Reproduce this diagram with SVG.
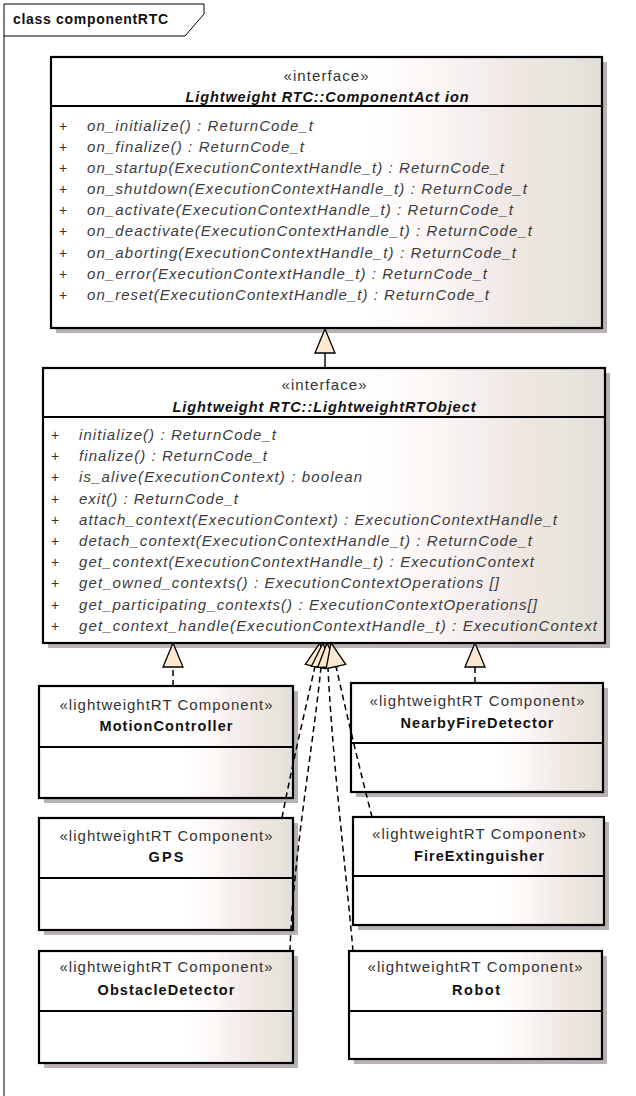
<svg xmlns="http://www.w3.org/2000/svg" width="636" height="1096" viewBox="0 0 636 1096">
  <defs>
    <linearGradient id="boxfill" x1="0" y1="0" x2="1" y2="0">
      <stop offset="0" stop-color="#ffffff"/>
      <stop offset="0.58" stop-color="#ffffff"/>
      <stop offset="0.68" stop-color="#fdf7f6"/>
      <stop offset="0.78" stop-color="#f4eded"/>
      <stop offset="0.86" stop-color="#eee6df"/>
      <stop offset="0.93" stop-color="#e7e6dd"/>
      <stop offset="1" stop-color="#e2ded8"/>
    </linearGradient>
    <marker id="gen" viewBox="0 0 26 22" refX="25" refY="11" markerWidth="26" markerHeight="22" markerUnits="userSpaceOnUse" orient="auto">
      <path d="M1,1 L25,11 L1,21 Z" fill="#fde9cf" stroke="#000" stroke-width="1.3" stroke-dasharray="none" stroke-linejoin="miter"/>
    </marker>
    <style>
      .shadow { fill: #b8b2b4; }
      .box { fill: url(#boxfill); stroke: #000; stroke-width: 2.2; }
      .sep { stroke: #000; stroke-width: 2.2; }
      .vis { font-family: "Liberation Sans", Arial, sans-serif; font-size: 14px; fill: #333; }
      .op { font-family: "Liberation Sans", Arial, sans-serif; font-size: 15px; font-style: italic; fill: #3b3b40; }
      .st { font-family: "Liberation Sans", Arial, sans-serif; font-size: 15px; fill: #333; text-anchor: middle; }
      .iname { font-family: "Liberation Sans", Arial, sans-serif; font-size: 14.5px; font-weight: bold; font-style: italic; fill: #111; text-anchor: middle; }
      .cname { font-family: "Liberation Sans", Arial, sans-serif; font-size: 14.5px; font-weight: bold; fill: #111; text-anchor: middle; }
      .title { font-family: "Liberation Sans", Arial, sans-serif; font-size: 14px; font-weight: bold; fill: #111; }
      .solid { fill: none; stroke: #000; stroke-width: 1.4; marker-end: url(#gen); }
      .dash { fill: none; stroke: #000; stroke-width: 1.5; stroke-dasharray: 6 4; marker-end: url(#gen); }
    </style>
  </defs>

  <rect width="636" height="1096" fill="#ffffff"/>

  <!-- package frame with name tab -->
  <g id="frame">
    <path d="M4,1096 V4 H204 V14 L185,36 H4" fill="none" stroke="#000" stroke-width="1"/>
    <text class="title" x="13" y="24" textLength="155">class componentRTC</text>
  </g>

  <!-- interface ComponentAction -->
  <g id="ComponentAction">
    <rect class="shadow" x="56" y="62" width="551" height="271"/>
    <rect class="box" x="51" y="57" width="551" height="271"/>
    <line class="sep" x1="51" y1="106" x2="602" y2="106"/>
    <text class="st" x="326" y="81" textLength="85">«interface»</text>
    <text class="iname" x="327" y="102" textLength="283">Lightweight RTC::ComponentAct ion</text>
    <g class="vis">
      <text x="59" y="131">+</text>
      <text x="59" y="152">+</text>
      <text x="59" y="173">+</text>
      <text x="59" y="194">+</text>
      <text x="59" y="215">+</text>
      <text x="59" y="236">+</text>
      <text x="59" y="258">+</text>
      <text x="59" y="279">+</text>
      <text x="59" y="300">+</text>
    </g>
    <text class="op" x="87" y="131" textLength="226">on_initialize() : ReturnCode_t</text>
    <text class="op" x="87" y="152" textLength="217">on_finalize() : ReturnCode_t</text>
    <text class="op" x="87" y="173" textLength="417">on_startup(ExecutionContextHandle_t) : ReturnCode_t</text>
    <text class="op" x="87" y="194" textLength="440">on_shutdown(ExecutionContextHandle_t) : ReturnCode_t</text>
    <text class="op" x="87" y="215" textLength="426">on_activate(ExecutionContextHandle_t) : ReturnCode_t</text>
    <text class="op" x="87" y="236" textLength="445">on_deactivate(ExecutionContextHandle_t) : ReturnCode_t</text>
    <text class="op" x="87" y="258" textLength="429">on_aborting(ExecutionContextHandle_t) : ReturnCode_t</text>
    <text class="op" x="87" y="279" textLength="400">on_error(ExecutionContextHandle_t) : ReturnCode_t</text>
    <text class="op" x="87" y="300" textLength="402">on_reset(ExecutionContextHandle_t) : ReturnCode_t</text>
  </g>

  <!-- interface LightweightRTObject -->
  <g id="LightweightRTObject">
    <rect class="shadow" x="48" y="373" width="562" height="275"/>
    <rect class="box" x="43" y="368" width="562" height="275"/>
    <line class="sep" x1="43" y1="417" x2="605" y2="417"/>
    <text class="st" x="324" y="390" textLength="85">«interface»</text>
    <text class="iname" x="324" y="412" textLength="303">Lightweight RTC::LightweightRTObject</text>
    <g class="vis">
      <text x="51" y="440">+</text>
      <text x="51" y="461">+</text>
      <text x="51" y="482">+</text>
      <text x="51" y="504">+</text>
      <text x="51" y="525">+</text>
      <text x="51" y="546">+</text>
      <text x="51" y="567">+</text>
      <text x="51" y="588">+</text>
      <text x="51" y="610">+</text>
      <text x="51" y="631">+</text>
    </g>
    <text class="op" x="79" y="440" textLength="197">initialize() : ReturnCode_t</text>
    <text class="op" x="79" y="461" textLength="188">finalize() : ReturnCode_t</text>
    <text class="op" x="79" y="482" textLength="283">is_alive(ExecutionContext) : boolean</text>
    <text class="op" x="79" y="504" textLength="159">exit() : ReturnCode_t</text>
    <text class="op" x="79" y="525" textLength="478">attach_context(ExecutionContext) : ExecutionContextHandle_t</text>
    <text class="op" x="79" y="546" textLength="453">detach_context(ExecutionContextHandle_t) : ReturnCode_t</text>
    <text class="op" x="79" y="567" textLength="455">get_context(ExecutionContextHandle_t) : ExecutionContext</text>
    <text class="op" x="79" y="588" textLength="420">get_owned_contexts() : ExecutionContextOperations []</text>
    <text class="op" x="79" y="610" textLength="458">get_participating_contexts() : ExecutionContextOperations[]</text>
    <text class="op" x="79" y="631" textLength="518">get_context_handle(ExecutionContextHandle_t) : ExecutionContext</text>
  </g>

  <!-- lightweightRTComponent classes -->
  <g id="MotionController">
    <rect class="shadow" x="44" y="691" width="254" height="112"/>
    <rect class="box" x="39" y="686" width="254" height="112"/>
    <line class="sep" x1="39" y1="747" x2="293" y2="747"/>
    <text class="st" x="166" y="710" textLength="213">«lightweightRT Component»</text>
    <text class="cname" x="166" y="731" textLength="133">MotionController</text>
  </g>

  <g id="NearbyFireDetector">
    <rect class="shadow" x="356" y="688" width="252" height="109"/>
    <rect class="box" x="351" y="683" width="252" height="109"/>
    <line class="sep" x1="351" y1="743" x2="603" y2="743"/>
    <text class="st" x="477" y="706" textLength="215">«lightweightRT Component»</text>
    <text class="cname" x="477" y="728" textLength="153">NearbyFireDetector</text>
  </g>

  <g id="GPS">
    <rect class="shadow" x="44" y="823" width="254" height="112"/>
    <rect class="box" x="39" y="818" width="254" height="112"/>
    <line class="sep" x1="39" y1="878" x2="293" y2="878"/>
    <text class="st" x="166" y="841" textLength="213">«lightweightRT Component»</text>
    <text class="cname" x="166" y="862" textLength="35">GPS</text>
  </g>

  <g id="FireExtinguisher">
    <rect class="shadow" x="358" y="822" width="251" height="108"/>
    <rect class="box" x="353" y="817" width="251" height="108"/>
    <line class="sep" x1="353" y1="876" x2="604" y2="876"/>
    <text class="st" x="479" y="839" textLength="214">«lightweightRT Component»</text>
    <text class="cname" x="479" y="861" textLength="130">FireExtinguisher</text>
  </g>

  <g id="ObstacleDetector">
    <rect class="shadow" x="44" y="956" width="254" height="112"/>
    <rect class="box" x="39" y="951" width="254" height="112"/>
    <line class="sep" x1="39" y1="1011" x2="293" y2="1011"/>
    <text class="st" x="166" y="972" textLength="213">«lightweightRT Component»</text>
    <text class="cname" x="166" y="995" textLength="137">ObstacleDetector</text>
  </g>

  <g id="Robot">
    <rect class="shadow" x="354" y="956" width="253" height="108"/>
    <rect class="box" x="349" y="951" width="253" height="108"/>
    <line class="sep" x1="349" y1="1011" x2="602" y2="1011"/>
    <text class="st" x="475" y="972" textLength="215">«lightweightRT Component»</text>
    <text class="cname" x="476" y="995" textLength="48">Robot</text>
  </g>

  <!-- generalization and realization connectors -->
  <g id="connectors">
    <path class="solid" d="M325,368 V329"/>
    <path class="dash" d="M173,686 V643"/>
    <path class="dash" d="M475,683 V643"/>
    <path class="dash" d="M282,818 C295,750 308,700 320,643"/>
    <path class="dash" d="M290,951 C293,850 318,720 323,643"/>
    <path class="dash" d="M353,951 C345,860 330,740 327,643"/>
    <path class="dash" d="M372,817 C360,770 343,700 331,643"/>
  </g>
</svg>
